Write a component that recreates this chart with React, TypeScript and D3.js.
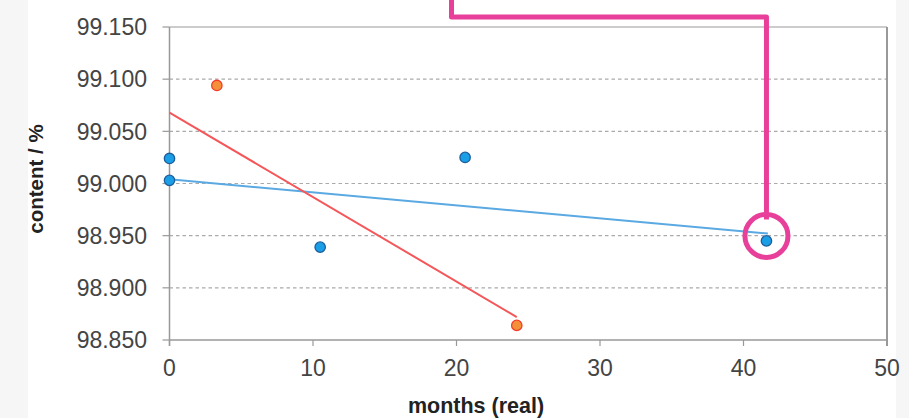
import React from "react";
import * as d3 from "d3";

const xTicks = [0, 10, 20, 30, 40, 50];
const yTicks = [98.85, 98.9, 98.95, 99.0, 99.05, 99.1, 99.15];

const blueX = [0, 0, 10.5, 20.6, 41.6];
const blueY = [99.024, 99.003, 98.939, 99.025, 98.945];
const orangeX = [3.3, 24.2];
const orangeY = [99.094, 98.864];

const blueTrendX = [0, 41.7];
const blueTrendY = [99.004, 98.952];
const orangeTrendX = [0, 24.2];
const orangeTrendY = [99.068, 98.872];

const xLabel = "months (real)";
const yLabel = "content / %";

export default function App() {
  const W = 909, H = 418;
  const L = 169.5, R = 887, T = 27, B = 340;
  const x = d3.scaleLinear().domain([0, 50]).range([L, R]);
  const y = d3.scaleLinear().domain([98.85, 99.15]).range([B, T]);
  const line = d3.line<[number, number]>().x(d => x(d[0])).y(d => y(d[1]));
  const bt = blueTrendX.map((v, i) => [v, blueTrendY[i]] as [number, number]);
  const ot = orangeTrendX.map((v, i) => [v, orangeTrendY[i]] as [number, number]);
  const pink = "#e8409a";
  const target = { x: x(blueX[4]), y: y(blueY[4]) };
  const cr = 21.5;
  return (
    <svg width={W} height={H} style={{ position: "absolute", left: 0, top: 0, background: "#fff" }}
      fontFamily="'Liberation Sans', Arial, sans-serif">
      <rect x={0} y={0} width={28} height={H} fill="#f6f6f6" />
      <rect x={896} y={0} width={13} height={H} fill="#f6f6f6" />
      {yTicks.slice(1, -1).map(t => (
        <line key={t} x1={L} x2={R} y1={y(t)} y2={y(t)} stroke="#aaa" strokeWidth={1.2} strokeDasharray="3.5,3" />
      ))}
      <line x1={L} x2={R} y1={T} y2={T} stroke="#999" strokeWidth={1.2} />
      <line x1={R} x2={R} y1={T} y2={B + 6} stroke="#999" strokeWidth={2} />
      <line x1={L} x2={L} y1={T} y2={B + 6} stroke="#999" strokeWidth={1.5} />
      <line x1={L} x2={R} y1={B} y2={B} stroke="#999" strokeWidth={1.5} />
      {yTicks.map(t => (
        <g key={t}>
          <line x1={L - 7} x2={L} y1={y(t)} y2={y(t)} stroke="#999" strokeWidth={1.2} />
          <text x={147} y={y(t)} dy="0.36em" textAnchor="end" fontSize={23} fill="#444">{t.toFixed(3)}</text>
        </g>
      ))}
      {xTicks.map(t => (
        <g key={t}>
          <line x1={x(t)} x2={x(t)} y1={B} y2={B + 6} stroke="#999" strokeWidth={1.2} />
          <text x={x(t)} y={376} textAnchor="middle" fontSize={23} fill="#444">{t}</text>
        </g>
      ))}
      <text x={476} y={413} textAnchor="middle" fontSize={21.5} fontWeight="bold" fill="#222">{xLabel}</text>
      <text transform={`translate(43,179) rotate(-90)`} textAnchor="middle" fontSize={20.5} fontWeight="bold" fill="#222">{yLabel}</text>
      <path d={line(bt) || ""} fill="none" stroke="#5aa9e2" strokeWidth={2} />
      <path d={line(ot) || ""} fill="none" stroke="#f4575a" strokeWidth={2} />
      {blueX.map((v, i) => (
        <circle key={"b" + i} cx={x(v)} cy={y(blueY[i])} r={5.2} fill="#1a9fe6" stroke="#1e5d9c" strokeWidth={1.3} />
      ))}
      {orangeX.map((v, i) => (
        <circle key={"o" + i} cx={x(v)} cy={y(orangeY[i])} r={5.2} fill="#f5903a" stroke="#f23d2a" strokeWidth={1.3} />
      ))}
      <path d={`M451.5,0 V17 H${target.x} V${target.y - cr}`} fill="none" stroke={pink} strokeWidth={5} strokeLinejoin="round" />
      <circle cx={target.x} cy={target.y - 5} r={cr} fill="none" stroke={pink} strokeWidth={5} />
    </svg>
  );
}
